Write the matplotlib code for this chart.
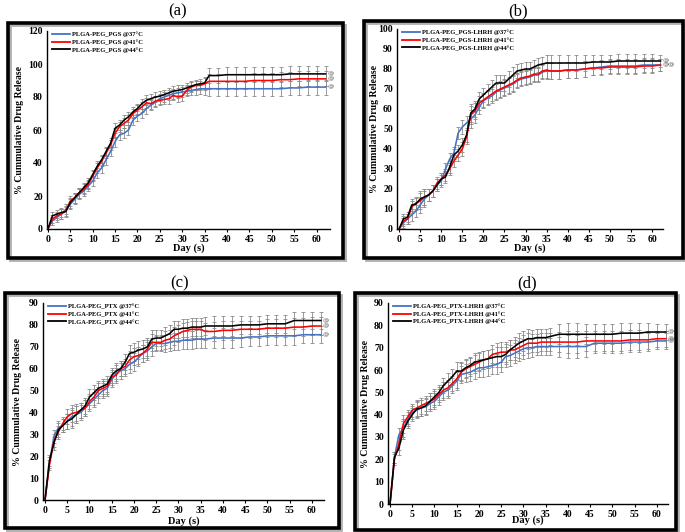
import matplotlib
matplotlib.use("Agg")
import matplotlib.pyplot as plt
from matplotlib.patches import Rectangle

plt.rcParams['font.family'] = ['Liberation Serif', 'DejaVu Serif']

days = [0, 1, 2, 3, 4, 5, 6, 7, 8, 9, 10, 11, 12, 13, 14, 15, 16, 17, 18, 19, 20,
        21, 22, 23, 24, 25, 26, 27, 28, 29, 30, 31, 32, 33, 34, 35, 36,
        38, 40, 42, 44, 46, 48, 50, 52, 54, 56, 58, 60, 62]

# ---- Panel (a) PLGA-PEG_PGS
a_labels = ["PLGA-PEG_PGS @37°C", "PLGA-PEG_PGS @41°C", "PLGA-PEG_PGS @44°C"]
a_blue = [0, 5, 7, 9, 12, 15, 18, 21, 23, 26, 29, 34, 37, 42, 47, 53, 57, 58, 60, 66, 68.5,
          70, 73, 75, 77, 79, 80, 81, 82, 82.5, 83, 83.5, 84, 84.5, 85, 85, 85,
          85, 85, 85, 85, 85, 85, 85, 85, 85.5, 85.5, 86, 86, 86]
a_red = [0, 6, 8, 9, 11, 17, 19, 22, 24, 27, 32, 37, 41, 46, 51, 58, 62, 64, 66, 70, 72,
         74, 76.5, 76, 77.5, 78, 78.5, 79, 81, 80, 80.5, 84, 86, 87, 87, 88, 89.5,
         89.5, 89.5, 89.5, 89.5, 90, 90, 90, 90.5, 90.5, 91, 91, 91, 91]
a_black = [0, 8, 9, 10, 10.5, 16, 19, 22, 25, 28, 33, 38, 42, 47, 52, 61, 63, 66, 68, 71, 73,
           76, 78, 79, 80, 80.5, 81.5, 82.5, 83.5, 84, 84.5, 85.5, 86.5, 87.5, 88, 88.5, 93,
           93, 93.5, 93.5, 93.5, 93.5, 93.5, 93.5, 93.5, 94, 94, 94, 94, 94]
a_err = [0, 2.5, 2.5, 3, 3, 3, 3, 3, 3, 3, 3, 3, 3, 3, 3, 3, 3, 3, 3, 3, 3,
         3, 3, 3, 3, 3, 3, 3, 3, 3, 3, 3, 3, 3, 3, 3.5, 4.5,
         4.5, 4.5, 4.5, 4.5, 4.5, 4.5, 4.5, 4.5, 4.5, 4.5, 4.5, 4.5, 4.5]

# ---- Panel (b) PLGA-PEG_PGS-LHRH
b_labels = ["PLGA-PEG_PGS-LHRH @37°C", "PLGA-PEG_PGS-LHRH @41°C", "PLGA-PEG_PGS-LHRH @44°C"]
b_blue = [0, 3, 5, 7, 9, 12, 15, 17, 19, 22, 24, 30, 35, 38, 48, 51, 53, 55, 57, 61, 64,
          65.5, 66.5, 68.5, 69.5, 70.5, 71.5, 72.5, 74, 75, 75.5, 76, 77, 77, 78.5, 79, 79,
          79, 79.5, 79.5, 80, 80.5, 81, 81.5, 81.5, 81.5, 81.5, 82, 82, 82]
b_red = [0, 4, 5, 11, 13, 14, 16, 17, 19, 23, 25, 27, 30, 34, 37, 40, 46, 57, 59, 63, 64.5,
         66, 67.5, 69, 70, 71, 72, 73, 74.5, 75.5, 76, 76.5, 77.5, 77.5, 79, 79.5, 79,
         79, 79.5, 79.5, 80, 80.5, 80.5, 81, 81, 81, 81, 81.5, 81.5, 82]
b_black = [0, 5, 6, 12, 12.5, 15, 16, 17, 19, 22, 25, 26, 31, 37, 39, 42, 47, 58, 60, 65, 67,
           69, 71, 73, 73, 73, 75, 77, 79, 79.5, 80, 80, 81, 82, 82.5, 83, 83,
           83, 83, 83, 83, 83.5, 83.5, 83.5, 84, 84, 84, 84, 84, 84]
b_err = [0, 2.5, 2.5, 3, 3, 4, 4, 3, 3, 3, 3, 3, 3, 3, 3, 3.5, 3.5, 4.5, 4, 3.5, 3.5,
         3.5, 3.5, 4, 4, 4, 4, 4, 3.5, 3.5, 3.5, 3.5, 3.5, 3.5, 3.5, 4, 4,
         4, 4, 4, 4, 3.5, 3.5, 3.5, 3.5, 3.5, 3.5, 3.5, 3.5, 3]

# ---- Panel (c) PLGA-PEG_PTX
c_labels = ["PLGA-PEG_PTX @37°C", "PLGA-PEG_PTX @41°C", "PLGA-PEG_PTX @44°C"]
c_blue = [0, 17, 29, 33, 34, 36, 38, 39, 40, 42, 44, 46, 48, 50, 51, 55, 58, 59, 60, 62, 63,
          65, 67, 68, 70, 71.5, 71.5, 71.5, 72, 72.5, 72.5, 73, 73, 73, 73.5, 73.5, 73.5,
          74, 74, 74, 74, 74.5, 74.5, 75, 75, 75, 75, 75.5, 75.5, 75.5]
c_red = [0, 16, 27, 31, 35, 38, 39.5, 40, 41, 42, 45, 47, 50, 51, 52, 56, 57, 60, 61, 64, 65.5,
         66, 67, 69, 72, 72, 72, 73, 73.5, 75, 76, 77, 77.5, 78, 78, 78, 77,
         77, 77.5, 77.5, 78, 78, 78, 78.5, 78.5, 78.5, 79, 79, 79.5, 79.5]
c_black = [0, 18, 26, 32, 34, 36, 37, 39, 41, 43, 47, 49, 51, 52, 53, 57, 59, 60, 63, 67, 67.5,
           68.5, 69, 70, 73.5, 74, 74, 75, 76, 78, 78, 78.5, 78.5, 79, 79, 79, 79.5,
           79.5, 79.5, 79.5, 80, 80, 80, 80.5, 80.5, 80.5, 82, 82, 82, 82]
c_err = [0, 2.5, 3, 3, 3, 3.5, 4, 4, 3.5, 3.5, 3.5, 3.5, 3.5, 3.5, 3.5, 3.5, 3.5, 3.5, 3.5, 4, 4,
         4, 4, 4, 4, 3.5, 3.5, 4, 4, 4, 4, 4, 4, 4, 4, 4, 4,
         4.5, 4.5, 4.5, 4, 4, 4, 4, 4, 4, 4, 4, 4, 4]

# ---- Panel (d) PLGA-PEG_PTX-LHRH
d_labels = ["PLGA-PEG_PTX-LHRH @37°C", "PLGA-PEG_PTX-LHRH @41°C", "PLGA-PEG_PTX-LHRH @44°C"]
d_blue = [0, 21, 31, 34, 38, 41, 42, 43, 43.5, 45, 46, 48, 50, 51, 53, 55, 58, 58.5, 59, 60, 61,
          61, 61.5, 62, 62.5, 63.5, 66, 66.5, 67.5, 68.5, 69.5, 70, 70, 70.5, 70.5, 70.5, 70.5,
          70.5, 70.5, 70.5, 70.5, 72, 72, 72, 72, 72.5, 72.5, 72.5, 73, 73]
d_red = [0, 20, 27, 36, 39, 42, 43, 44, 45, 46, 47, 49, 51, 52, 54, 56, 59, 60.5, 61.5, 62.5, 63.5,
         64.5, 65, 67, 67.5, 68, 68, 69, 69, 70, 71, 72, 72, 72, 72.5, 72.5, 72.5,
         72.5, 72.5, 72.5, 73, 73, 73, 73, 73, 73.5, 73.5, 73.5, 74, 74]
d_black = [0, 21, 25, 33, 37, 40, 42.5, 43, 44, 46, 48, 50, 53, 55, 57, 59.5, 59.5, 61, 62, 63.5, 64,
           64.5, 65, 65.5, 66, 66, 67, 69, 70.5, 72, 73, 74, 74, 74.5, 74.5, 74.5, 75,
           76, 76, 76, 76, 76, 76, 76, 76.5, 76.5, 76.5, 77, 77, 77]
d_err = [0, 2.5, 3, 4, 3, 3, 3.5, 3.5, 3.5, 3.5, 3.5, 3.5, 3.5, 3.5, 3.5, 4, 4, 4, 4, 4, 4,
         4, 4, 4, 4.5, 4.5, 4.5, 4.5, 4.5, 4.5, 4.5, 4.5, 4, 4, 4, 4, 4,
         4.5, 5, 5, 4.5, 4.5, 4.5, 4.5, 4.5, 4.5, 4.5, 4, 3.5, 3.5]

W, H = 685, 532
fig = plt.figure(figsize=(W / 100, H / 100), dpi=100)
fig.patch.set_facecolor('white')

def fx(px):
    return px / W

def fy(py):
    return 1 - py / H

colors = ['#4472C4', '#FF0000', '#000000']
bold = dict(family=['Liberation Serif', 'DejaVu Serif'], weight='bold')

panels = [
    # title, title pos, frame(l,t,r,b), axes(l,t,r,b), xlim, ymax, yticks, labels, series, err, ats,
    # ylabel x (px), xlabel y (px)
    ("(a)", 178, 11, (8, 23, 343, 258), (47, 31, 330, 229), (-0.2, 63), 120, range(0, 121, 20),
     a_labels, (a_blue, a_red, a_black), a_err, ["@", "@", "@"], 20, 248),
    ("(b)", 518, 11, (364, 21, 683, 258), (397, 29, 663, 229), (-0.5, 62.6), 100, range(0, 101, 10),
     b_labels, (b_blue, b_red, b_black), b_err, ["", "@@", "@"], 374, 248),
    ("(c)", 180, 283, (5, 293, 339, 528), (43, 303, 324, 500), (-0.45, 62.7), 90, range(0, 91, 10),
     c_labels, (c_blue, c_red, c_black), c_err, ["@", "@", "@"], 18, 521),
    ("(d)", 527, 283, (355, 293, 676, 530), (388, 303, 668, 504), (-0.45, 62.5), 90, range(0, 91, 10),
     d_labels, (d_blue, d_red, d_black), d_err, ["@", "@", "@"], 366, 520),
]

for (title, tx, ty, fr, axr, xlim, ymax, yticks, labels, series, err, ats, ylx, xly) in panels:
    l, t, r, b = fr
    fig.patches.append(Rectangle((fx(l + 2), fy(b + 2)), fx(r - l), (b - t) / H,
                                 transform=fig.transFigure, facecolor='none',
                                 edgecolor='#b0b0b0', linewidth=2.0, zorder=0))
    fig.patches.append(Rectangle((fx(l), fy(b)), fx(r - l), (b - t) / H,
                                 transform=fig.transFigure, facecolor='none',
                                 edgecolor='black', linewidth=2.6, zorder=1))
    fig.text(fx(tx), fy(ty), title, ha='center', va='center', fontsize=12,
             family=['Liberation Serif', 'DejaVu Serif'])
    al, at, ar, ab = axr
    ax = fig.add_axes([fx(al), fy(ab), fx(ar - al), (ab - at) / H])
    ax.set_facecolor('none')
    for s in ['top', 'right']:
        ax.spines[s].set_visible(False)
    ax.spines['left'].set_linewidth(1.0)
    ax.spines['bottom'].set_linewidth(1.0)
    ax.set_xlim(*xlim)
    ax.set_ylim(0, ymax)
    ax.set_xticks(range(0, 61, 5))
    ax.set_yticks(list(yticks))
    ax.tick_params(axis='x', length=2.5, width=0.8, pad=1.5, labelsize=7)
    ax.tick_params(axis='y', length=0, pad=3, labelsize=7)
    for lab in ax.get_xticklabels() + ax.get_yticklabels():
        lab.set_fontweight('bold')
        lab.set_family(['Liberation Serif', 'DejaVu Serif'])
    ax.set_xlabel("Day (s)", fontsize=7.5, **bold)
    ax.set_ylabel("% Cummulative Drug Release", fontsize=7, **bold)
    ax.yaxis.set_label_coords((ylx - al) / (ar - al), 0.5)
    ax.xaxis.set_label_coords(0.5, -(xly - ab) / (ab - at))
    ax.xaxis.label.set_va('center')
    ax.yaxis.label.set_va('center')

    for vals in series:
        assert len(vals) == len(days)
        ax.errorbar(days, vals, yerr=err, fmt='none', ecolor='#8a8a8a',
                    elinewidth=0.6, capsize=1.3, capthick=0.6, zorder=2)
    for vals, col, lab in zip(series, colors, labels):
        ax.plot(days, vals, color=col, linewidth=1.15, label=lab, zorder=3)
    for vals, s in zip(series, ats):
        if s:
            ax.text(days[-1] + 0.5, vals[-1], s, fontsize=4.5, color='#555555',
                    ha='left', va='center', clip_on=False,
                    family=['DejaVu Sans'])
    leg = ax.legend(loc='upper left', bbox_to_anchor=(0.0, 1.02), frameon=False,
                    prop=dict(family=['Liberation Serif', 'DejaVu Serif'], weight='bold', size=4.7),
                    handlelength=2.8, handletextpad=0.3, labelspacing=0.3, borderaxespad=0.3)
    for line in leg.get_lines():
        line.set_linewidth(1.3)

fig.savefig("out.png", dpi=100, facecolor='white')
